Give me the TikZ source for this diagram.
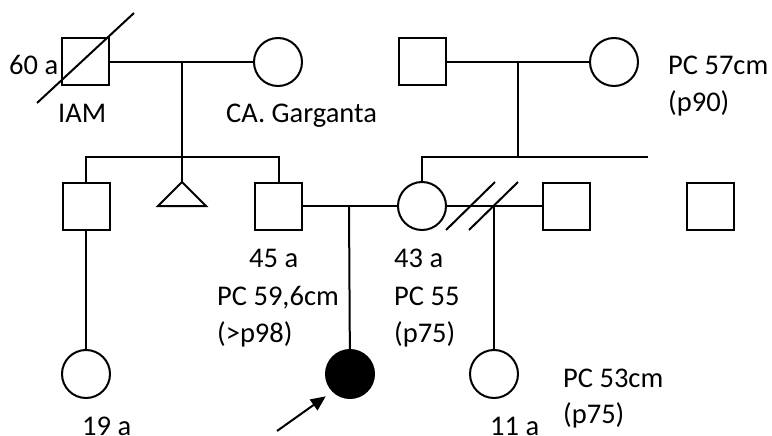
\documentclass[tikz,border=0pt]{standalone}
\usepackage{fontspec}
\setmainfont{Carlito}
\usetikzlibrary{arrows.meta}
\definecolor{pgink}{HTML}{000000}
\tikzset{
  pg text/.style={font=\fontsize{28.5}{34}\selectfont, text=pgink},
  pg line/.style={draw=pgink, line width=2pt},
  pg male/.style={pg line, rectangle, minimum size=47pt, inner sep=0pt, fill=white},
  pg female/.style={pg line, circle, minimum size=48pt, inner sep=0pt, fill=white},
  pg affected/.style={fill=pgink},
  pg label/.style={pg text, inner sep=0pt, anchor=base west},
  pg arrow/.style={-{Triangle[length=15pt,width=13pt]}, line width=2pt, draw=pgink}
}

\begin{document}
\begin{tikzpicture}[pg text, x=1pt, y=-1pt]
  \useasboundingbox (0,0) rectangle (772,436);
  % grandparents
  \node[pg male] (patgf) at (85.5,62) {};
  \node[pg female] (patgm) at (278,62) {};
  \node[pg male] (matgf) at (422,62) {};
  \node[pg female] (matgm) at (614,62) {};
  \coordinate (patcouple) at (182,62);
  \coordinate (patsib) at (182,157);
  \coordinate (matcouple) at (518,62);
  \coordinate (matsibend) at (648,157);
  \draw[pg line] (37,103) -- (134,13);
  % parents
  \node[pg male] (uncle) at (86,206) {};
  \coordinate (loss) at (182,182);
  \node[pg male] (father) at (278.5,206) {};
  \node[pg female] (mother) at (422,206) {};
  \node[pg male] (stepfather) at (566.5,206) {};
  \node[pg male] (maleright) at (710,206.5) {};
  \coordinate (parents) at (349,206);
  \coordinate (exunion) at (494,206);
  % children
  \node[pg female] (cousin) at (86,374) {};
  \node[pg female, pg affected] (proband) at (350,374) {};
  \node[pg female] (halfsister) at (494,374) {};
  \coordinate (pointer) at (277,431);
  % lines
  \draw[pg line] (patgf) -- (patgm);
  \draw[pg line] (patcouple) -- (patsib);
  \draw[pg line] (uncle) |- (patsib) -| (father);
  \draw[pg line] (patsib) -- (loss);
  \draw[pg line] (loss) -- ++(-24,24) -- ++(48,0) -- cycle;
  \draw[pg line] (matgf) -- (matgm);
  \draw[pg line] (matcouple) -- (matcouple |- matsibend);
  \draw[pg line] (mother) |- (matsibend);
  \draw[pg line] (father) -- (mother);
  \draw[pg line] (parents) -- (proband);
  \draw[pg line] (mother) -- (stepfather);
  \draw[pg line] (exunion) -- (halfsister);
  \draw[pg line] (446,230) -- (495,182);
  \draw[pg line] (469,230) -- (518,182);
  \draw[pg line] (uncle) -- (cousin);
  \draw[pg arrow, shorten >=8pt] (pointer) -- (proband.225);
  % labels
  \node[pg label] (agepatgf) at (9,75) {60 a};
  \node[pg label] (causepatgf) at (58,122) {IAM};
  \node[pg label] (causepatgm) at (226,122) {CA. Garganta};
  \node[pg label] (pcmatgm) at (668,75) {PC 57cm};
  \node[pg label] (pmatgm) at (668,111) {(p90)};
  \node[pg label] (agefather) at (249,267) {45 a};
  \node[pg label] (pcfather) at (217,305) {PC 59,6cm};
  \node[pg label] (pfather) at (217,342) {(>p98)};
  \node[pg label] (agemother) at (394,267) {43 a};
  \node[pg label] (pcmother) at (394,305) {PC 55};
  \node[pg label] (pmother) at (394,342) {(p75)};
  \node[pg label] (agecousin) at (82,435) {19 a};
  \node[pg label] (agehalfsister) at (490,435) {11 a};
  \node[pg label] (pchalfsister) at (563,387) {PC 53cm};
  \node[pg label] (phalfsister) at (563,423) {(p75)};
\end{tikzpicture}
\end{document}
